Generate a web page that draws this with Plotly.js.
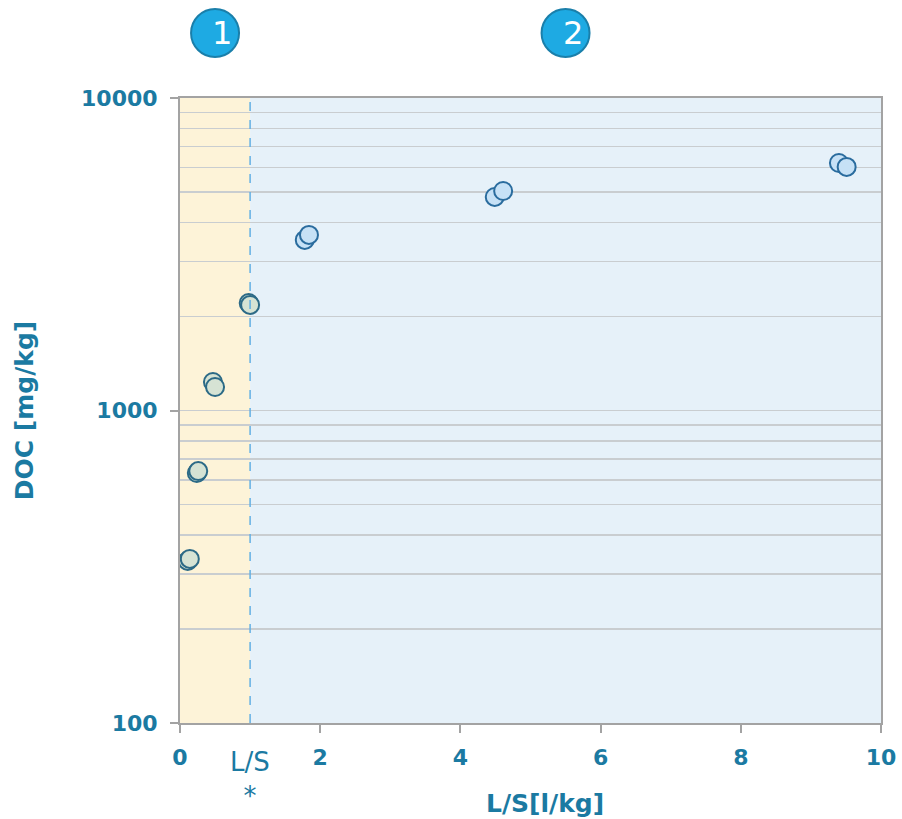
<!DOCTYPE html>
<html><head><meta charset="utf-8">
<script src="https://cdn.plot.ly/plotly-3.0.1.min.js"></script>
<style>body{margin:0;background:#fff}#c{width:902px;height:819px}</style>
</head><body><div id="c"></div>
<script>
// Phase 1 (L/S <= 1)
const phase1X = [0.11, 0.14, 0.24, 0.26, 0.47, 0.50, 0.98, 1.00];
const phase1Y = [330, 335, 631, 640, 1234, 1189, 2208, 2177];
// Phase 2 (L/S > 1)
const phase2X = [1.78, 1.84, 4.49, 4.61, 9.40, 9.51];
const phase2Y = [3514, 3647, 4823, 5040, 6195, 6020];
const xTicks = [0, 2, 4, 6, 8, 10];
const yTicks = [100, 1000, 10000];
const yTickLabels = ['100', '1000', '10000'];
const phaseLabels = ['1', '2'];
const phaseCenters = [0.5, 5.5];
const phaseSplit = 1;

const teal = '#1b7aa2';
const fontB = 'DejaVu Sans';

const traces = [
  {x: phase1X, y: phase1Y, type: 'scatter', mode: 'markers', hoverinfo: 'skip',
   marker: {size: 18, color: '#d6e3d4', line: {color: '#2c6a86', width: 2}}},
  {x: phase2X, y: phase2Y, type: 'scatter', mode: 'markers', hoverinfo: 'skip',
   marker: {size: 18, color: '#c6e1f6', line: {color: '#2a6c9e', width: 2}}}
];

const shapes = [
  {type: 'rect', xref: 'x', yref: 'paper', x0: 0, x1: phaseSplit, y0: 0, y1: 1,
   fillcolor: '#fdf3d8', line: {width: 0}, layer: 'below'},
  {type: 'rect', xref: 'x', yref: 'paper', x0: phaseSplit, x1: 10, y0: 0, y1: 1,
   fillcolor: '#e6f1f9', line: {width: 0}, layer: 'below'},
  {type: 'line', xref: 'x', yref: 'paper', x0: phaseSplit, x1: phaseSplit, y0: 0, y1: 1,
   line: {color: '#62b0e4', width: 1.5, dash: 'dash'}, layer: 'above'}
];
const annotations = [];
phaseLabels.forEach((t, i) => {
  shapes.push({type: 'circle', xref: 'x', yref: 'paper',
    xsizemode: 'pixel', ysizemode: 'pixel', xanchor: phaseCenters[i], yanchor: 1.104,
    x0: -24, x1: 24, y0: -24, y1: 24,
    fillcolor: '#1eaae3', line: {color: '#1a7faa', width: 2}});
  annotations.push({text: t, xref: 'x', yref: 'paper', x: phaseCenters[i] + 0.1, y: 1.104,
    showarrow: false, font: {family: 'DejaVu Sans', size: 32, color: '#ffffff'},
    xanchor: 'center', yanchor: 'middle'});
});
annotations.push({text: 'L/S<br>*', xref: 'x', yref: 'paper', x: phaseSplit, y: -0.035,
  showarrow: false, align: 'center', xanchor: 'center', yanchor: 'top',
  font: {family: 'DejaVu Sans', size: 26, color: teal}});
annotations.push({text: '<b>L/S[l/kg]</b>', xref: 'x', yref: 'paper', x: 5.2, y: -0.128,
  showarrow: false, xanchor: 'center', yanchor: 'middle',
  font: {family: fontB, size: 25, color: teal}});

const layout = {
  width: 902, height: 819,
  margin: {l: 180, r: 21, t: 98, b: 96},
  paper_bgcolor: '#ffffff', plot_bgcolor: '#ffffff',
  showlegend: false,
  xaxis: {range: [0, 10], tickvals: xTicks, ticktext: xTicks.map(String),
    showgrid: false, zeroline: false, showline: true, mirror: true,
    linecolor: '#a3a3a3', linewidth: 2, ticks: 'outside', ticklen: 8, tickwidth: 2, tickcolor: '#a3a3a3',
    ticklabelstandoff: 6,
    tickfont: {family: fontB, size: 22, color: teal, weight: 'bold'}},
  yaxis: {type: 'log', range: [2, 4], tickvals: yTicks, ticktext: yTickLabels,
    showgrid: true, gridcolor: '#c9cdd0', gridwidth: 1.5, zeroline: false,
    minor: {showgrid: true, gridcolor: '#c9cdd0', gridwidth: 1.5, dtick: 'D1', ticks: ''},
    showline: true, mirror: true, linecolor: '#a3a3a3', linewidth: 2,
    ticks: 'outside', ticklen: 8, tickwidth: 2, tickcolor: '#a3a3a3',
    ticklabelstandoff: 8,
    tickfont: {family: fontB, size: 22, color: teal, weight: 'bold'},
    title: {text: '<b>DOC [mg/kg]</b>', font: {family: fontB, size: 25, color: teal}, standoff: 40}},
  shapes: shapes, annotations: annotations
};
Plotly.newPlot('c', traces, layout, {displayModeBar: false, staticPlot: true});
</script></body></html>
